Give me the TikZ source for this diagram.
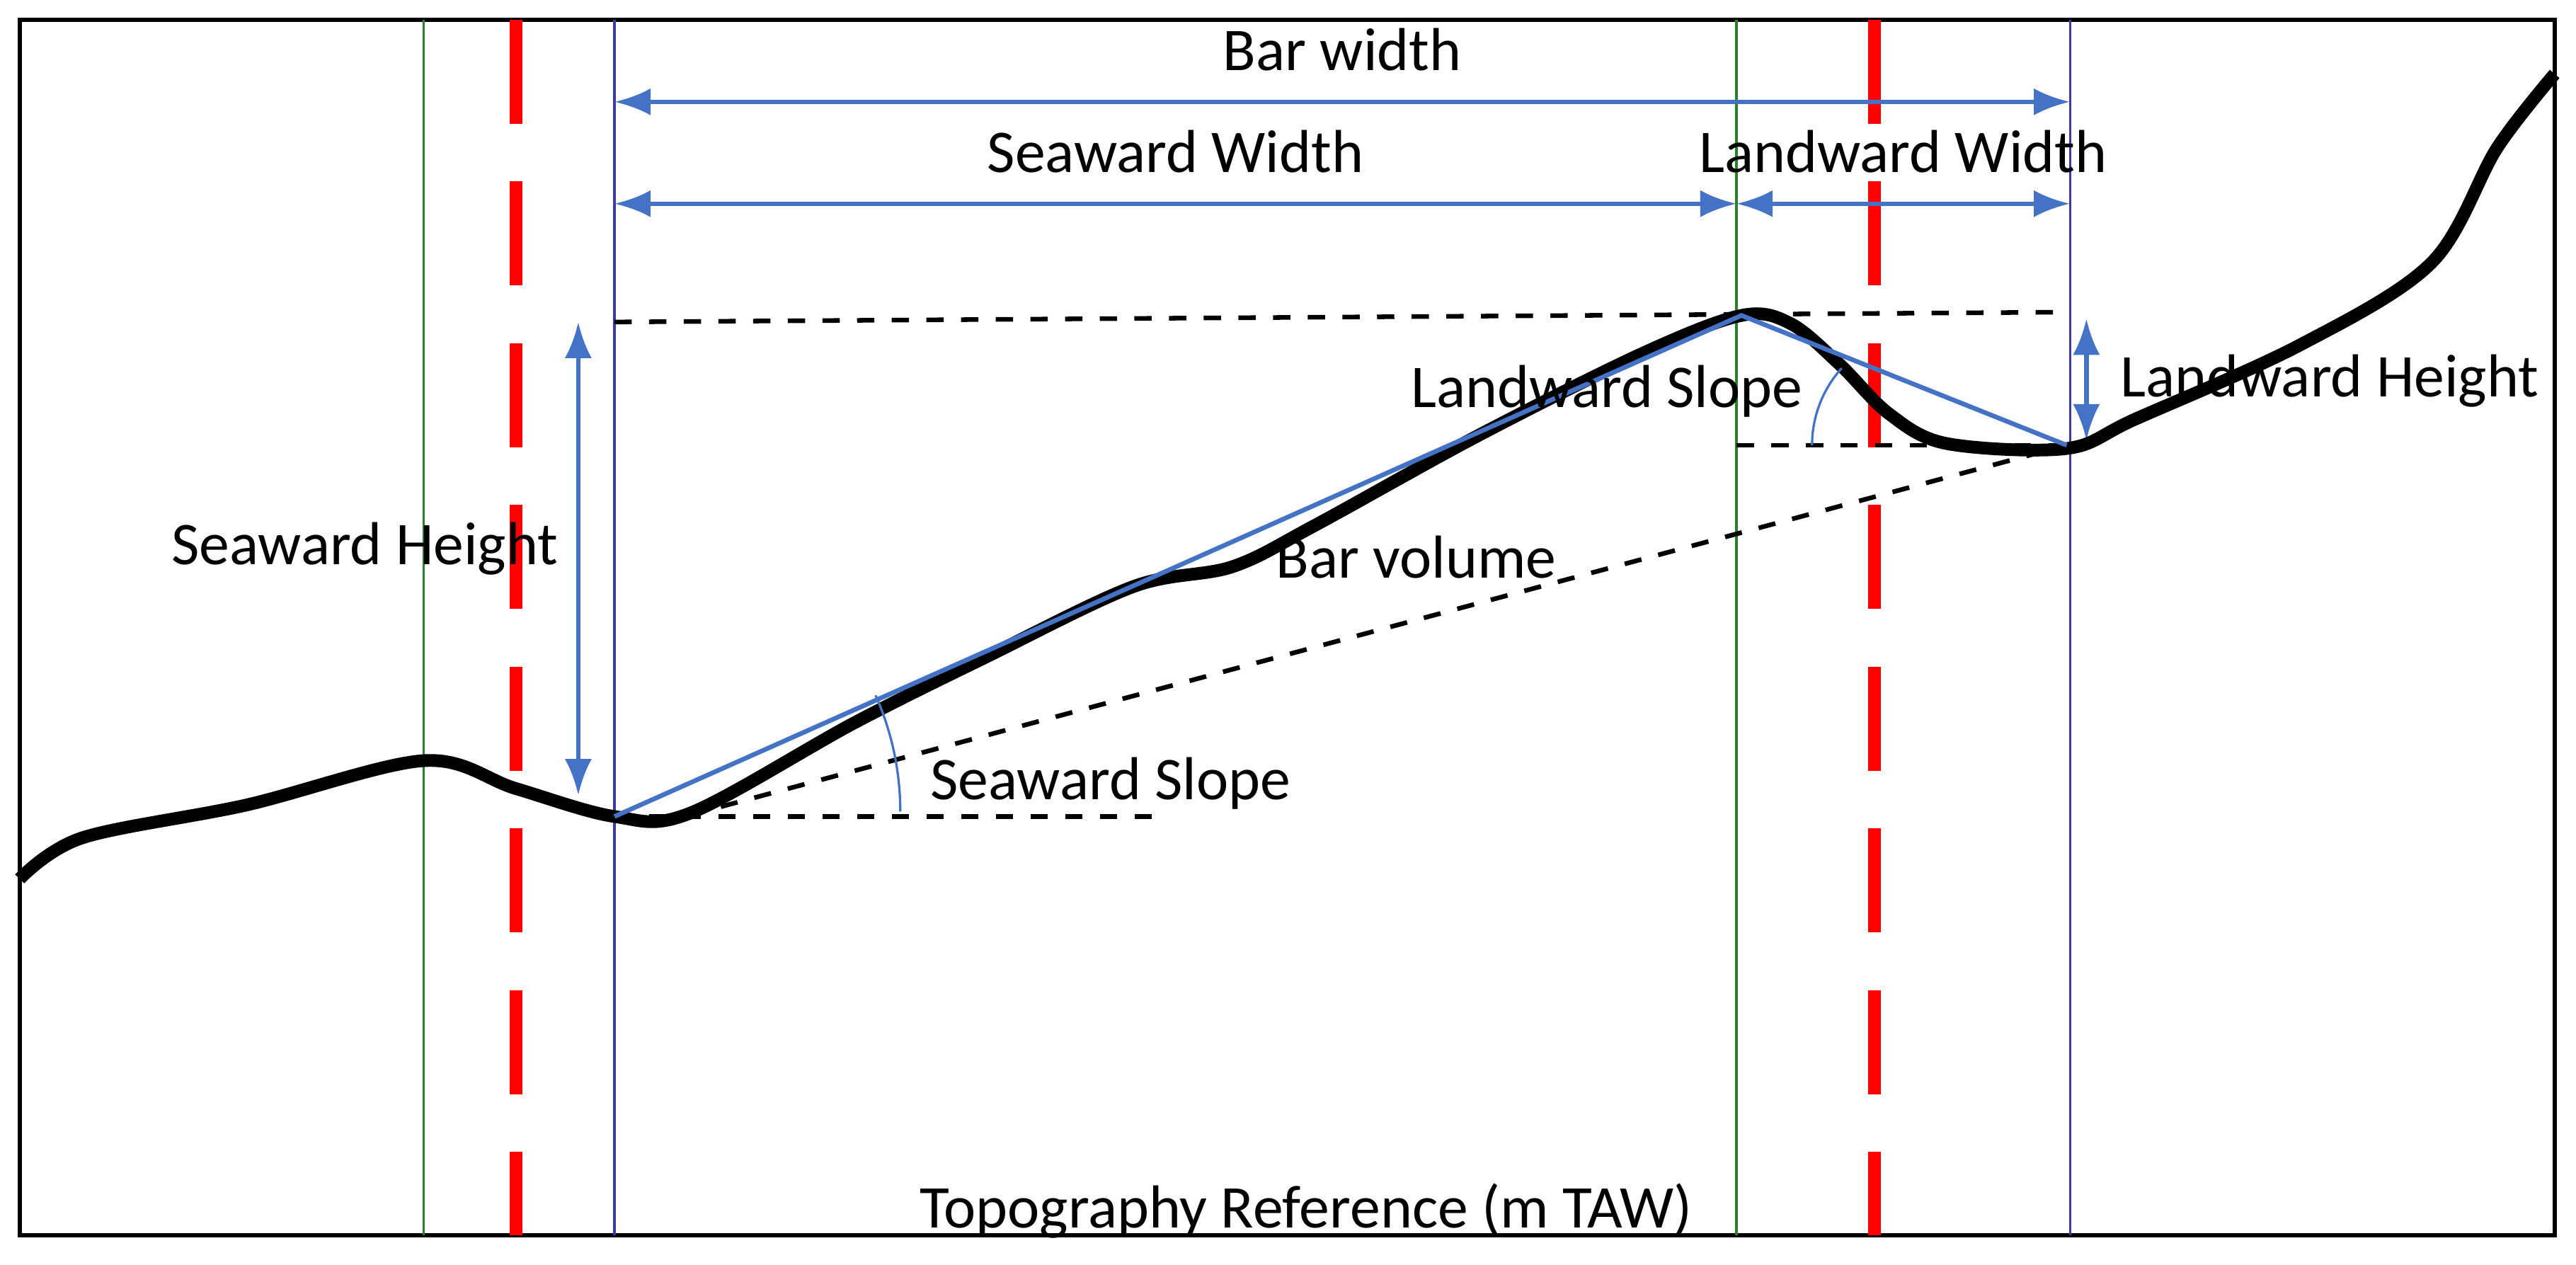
\documentclass[tikz,border=0pt]{standalone}
\usepackage{fontspec}
\setmainfont{Carlito}
\usetikzlibrary{arrows.meta,positioning}
\definecolor{dimblue}{RGB}{68,114,196}
\definecolor{barpurple}{RGB}{60,60,160}
\definecolor{refgreen}{RGB}{40,130,40}
\tikzset
{
    lbl/.style     = {font=\fontsize{10.5}{12}\selectfont, inner sep=1pt, text=black},
    dimarrow/.style = {dimblue, thick, {Latex[length=2.2mm]}-{Latex[length=2.2mm]}},
    guide/.style   = {black, dashed, thick},
    redcut/.style  = {red, line width=2.2pt, dash pattern=on 18pt off 10pt}
}
\begin{document}
\begin{tikzpicture}[x=0.01cm, y=-0.01cm]
    \useasboundingbox (0,0) rectangle (1568,770);
    \draw[thick] (12,12) rectangle (1555,752);
    % reference verticals
    \draw[refgreen] (258,12) -- (258,752);
    \draw[refgreen] (1057,12) -- (1057,752);
    \draw[barpurple] (374,12) -- (374,752);
    \draw[barpurple] (1260,12) -- (1260,752);
    \draw[redcut] (314,12) -- (314,752);
    \draw[redcut] (1141,12) -- (1141,752);
    % key points
    \coordinate (trough) at (374,497);
    \coordinate (crest) at (1060,192);
    \coordinate (land) at (1258,271);
    % widths
    \coordinate (bwL) at (374,62);   \coordinate (bwR) at (1260,62);
    \coordinate (swL) at (374,124);  \coordinate (swR) at (1057,124);
    \coordinate (lwR) at (1260,124);
    \draw[dimarrow] (bwL) -- node[lbl, above=4pt] {Bar width} (bwR);
    \draw[dimarrow] (swL) -- node[lbl, above=4pt] {Seaward Width} (swR);
    \draw[dimarrow] (swR) -- node[lbl, above=4pt] {Landward Width} (lwR);
    % guides
    \draw[guide] (374,196) -- (1258,190);
    \draw[guide] (1057,271) -- (land);
    \draw[guide] (398,502) -- (land);
    \draw[guide] (trough) -- (705,497);
    % heights
    \coordinate (shT) at (352,196); \coordinate (shB) at (352,484);
    \coordinate (lhT) at (1270,194); \coordinate (lhB) at (1270,268);
    \draw[dimarrow] (shT) -- (shB);
    \draw[dimarrow] (lhT) -- (lhB);
    \node[lbl] (seaH) at (222,334) {Seaward Height};
    \node[lbl] (landH) at (1418,232) {Landward Height};
    % profile
    \draw[line width=2.2pt, line join=round] plot[smooth, tension=0.55] coordinates
    {(12,535) (50,510) (150,490) (258,463) (314,480) (374,497) (420,495) (520,440)
     (600,400) (690,357) (750,345) (800,320) (900,265) (1000,215) (1060,192)
     (1090,197) (1120,222) (1150,252) (1185,270) (1258,273) (1300,255) (1400,210)
     (1480,160) (1520,90) (1555,45)};
    % slope lines
    \draw[dimblue, thick] (trough) -- (crest) -- (land);
    \draw[dimblue] (548,494) arc[start angle=0, end angle=-24, radius=174];
    \draw[dimblue] (1103,271) arc[start angle=180, end angle=222, radius=70];
    \node[lbl] (seaS) at (676,477) {Seaward Slope};
    \node[lbl] (landS) at (978,238) {Landward Slope};
    \node[lbl] (vol) at (862,339) {Bar volume};
    \node[lbl] (topo) at (795,737) {Topography Reference (m TAW)};
\end{tikzpicture}
\end{document}
